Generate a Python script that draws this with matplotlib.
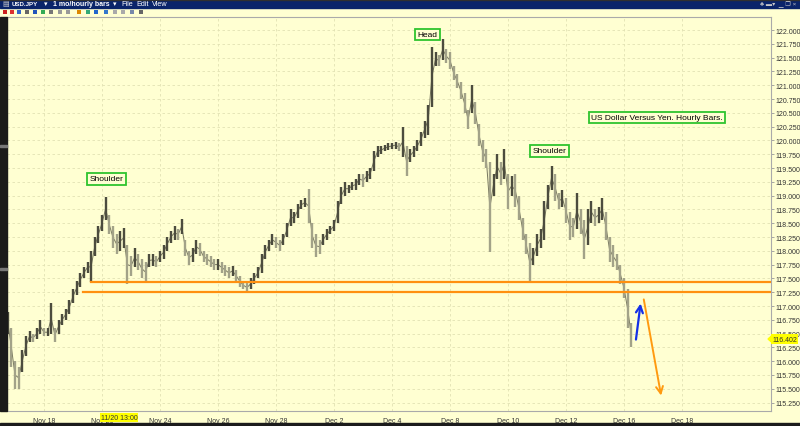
import numpy as np
import matplotlib.pyplot as plt
from matplotlib.patches import Rectangle, Polygon

plt.rcParams['font.family'] = ['Liberation Sans', 'DejaVu Sans']

# USD/JPY, 3-hour bars (Nov 16 evening -> Dec 16 morning, weekends removed)
bar_high = [
    116.90, 116.60, 116.00, 115.90, 116.20, 116.45, 116.55, 116.50, 116.60, 116.75,
    116.60, 116.60, 117.05, 116.60, 116.75, 116.85, 116.95, 117.10, 117.30, 117.45,
    117.60, 117.70, 117.80, 118.00, 118.25, 118.45, 118.65, 118.97, 118.65, 118.45,
    118.30, 118.35, 118.42, 118.10, 117.90, 118.05, 117.95, 117.85, 117.80, 117.95,
    117.95, 117.90, 118.00, 118.10, 118.25, 118.35, 118.45, 118.40, 118.58, 118.20,
    118.00, 118.05, 118.20, 118.15, 118.00, 117.95, 117.90, 117.85, 117.85, 117.80,
    117.75, 117.70, 117.72, 117.65, 117.55, 117.45, 117.42, 117.50, 117.60, 117.70,
    117.95, 118.10, 118.20, 118.30, 118.25, 118.20, 118.30, 118.50, 118.75, 118.70,
    118.85, 118.92, 118.95, 119.12, 118.50, 118.30, 118.20, 118.30, 118.40, 118.45,
    118.55, 118.90, 119.15, 119.25, 119.20, 119.25, 119.30, 119.40, 119.40, 119.45,
    119.50, 119.80, 119.90, 119.90, 119.92, 119.95, 119.95, 119.98, 119.95, 120.25,
    119.90, 119.85, 119.90, 120.00, 120.15, 120.35, 120.65, 121.70, 121.60, 121.55,
    121.84, 121.65, 121.60, 121.35, 121.20, 121.05, 120.85, 120.55, 121.00, 120.70,
    120.30, 120.00, 119.85, 119.60, 119.40, 119.75, 119.60, 119.85, 119.40, 119.35,
    119.40, 119.00, 118.60, 118.30, 118.15, 118.05, 118.30, 118.40, 118.90, 119.20,
    119.54, 119.40, 119.05, 119.10, 118.95, 118.70, 118.60, 119.05, 118.75, 118.55,
    118.75, 118.90, 118.75, 118.80, 118.95, 118.70, 118.25, 118.10, 117.95, 117.75,
    117.50, 117.30, 116.70,
]
bar_low = [
    116.50, 115.90, 115.50, 115.50, 115.80, 116.10, 116.35, 116.35, 116.40, 116.50,
    116.45, 116.45, 116.50, 116.35, 116.50, 116.65, 116.75, 116.85, 117.05, 117.20,
    117.35, 117.50, 117.60, 117.43, 117.90, 118.15, 118.35, 118.55, 118.30, 118.05,
    117.95, 118.00, 118.05, 117.40, 117.55, 117.70, 117.65, 117.50, 117.43, 117.70,
    117.72, 117.70, 117.80, 117.85, 118.00, 118.15, 118.20, 118.20, 118.30, 117.90,
    117.75, 117.80, 117.95, 117.90, 117.80, 117.75, 117.70, 117.65, 117.65, 117.60,
    117.55, 117.50, 117.55, 117.45, 117.35, 117.30, 117.25, 117.30, 117.40, 117.50,
    117.60, 117.85, 118.00, 118.10, 118.05, 118.00, 118.10, 118.25, 118.45, 118.50,
    118.60, 118.75, 118.80, 118.50, 118.05, 117.88, 117.95, 118.10, 118.20, 118.30,
    118.35, 118.50, 118.85, 119.00, 119.05, 119.10, 119.10, 119.20, 119.15, 119.25,
    119.30, 119.45, 119.70, 119.75, 119.80, 119.82, 119.85, 119.85, 119.80, 119.70,
    119.35, 119.60, 119.70, 119.80, 119.90, 120.05, 120.10, 120.60, 121.35, 121.35,
    121.45, 121.40, 121.30, 121.10, 120.95, 120.75, 120.50, 120.20, 120.50, 120.30,
    119.90, 119.60, 119.50, 117.97, 119.00, 119.30, 119.20, 119.30, 118.75, 119.00,
    118.80, 118.55, 118.20, 117.95, 117.43, 117.75, 117.90, 118.05, 118.20, 118.75,
    119.10, 118.90, 118.75, 118.80, 118.50, 118.20, 118.25, 118.40, 118.30, 117.85,
    118.10, 118.50, 118.45, 118.50, 118.55, 118.20, 117.80, 117.70, 117.65, 117.40,
    117.15, 116.60, 116.25,
]
last_price = 116.402

# trading-day index (0 = Nov 18) of each date label
date_labels = ['Nov 18', 'Nov 20', 'Nov 24', 'Nov 26', 'Nov 28', 'Dec 2',
               'Dec 4', 'Dec 8', 'Dec 10', 'Dec 12', 'Dec 16', 'Dec 18']
date_pos = [0, 2, 4, 6, 8, 10, 12, 14, 16, 18, 20, 22]

# neckline levels and where they start (trading-day index)
neck_levels = [117.43, 117.25]
neck_start = [1.62, 1.34]

W, H = 800, 427
bg = '#ffffd2'

fig = plt.figure(figsize=(W / 100, H / 100), dpi=100, facecolor=bg)
ax = fig.add_axes([7 / W, 1 - 412 / H, 764 / W, 394 / H])
ax.set_facecolor(bg)

# bars: 8 per trading day, bar 10 is Nov 18 00:00
n = len(bar_high)
x = (np.arange(n) - 10) / 8
hi = np.array(bar_high)
lo = np.array(bar_low)
mid = (hi + lo) / 2
up = np.r_[True, mid[1:] >= mid[:-1]]
cols = np.where(up, '#4c4c3e', '#a2a288')
# thin trace through the bar midpoints so the bars read as one dense scribble
ax.plot(x, mid, color='#77775f', lw=0.7, zorder=2)
ax.vlines(x, lo, hi, colors=cols, lw=1.7, zorder=3)

for lvl, x0 in zip(neck_levels, neck_start):
    ax.plot([x0, 26], [lvl, lvl], color='#ff9010', lw=1.6, zorder=4)

# hand drawn arrows
ax.annotate('', xy=(20.585, 117.096), xytext=(20.40, 116.342),
            arrowprops=dict(arrowstyle='->,head_length=0.5,head_width=0.25', color='#1530e8', lw=1.6))
ax.annotate('', xy=(21.297, 115.328), xytext=(20.665, 117.169),
            arrowprops=dict(arrowstyle='->,head_length=0.5,head_width=0.25', color='#ff9a10', lw=1.4))

ax.set_xlim((7 - 44) / 29.0, (771 - 44) / 29.0)
ax.set_ylim(122 - 381 / 55.2, 122 + 13 / 55.2)

ax.set_xticks(date_pos)
ax.set_xticklabels(date_labels)
yt = np.arange(115.25, 122.01, 0.25)
ax.set_yticks(yt)
ax.set_yticklabels(['%.3f' % v for v in yt])
ax.yaxis.tick_right()
ax.tick_params(axis='y', labelsize=5, colors='#999999', labelcolor='#333333', length=2, pad=1, width=0.6)
ax.tick_params(axis='x', labelsize=5, labelcolor='#333333', length=0, pad=4)
ax.grid(True, color='#e2e2b4', lw=0.6, linestyle=(0, (3, 3)))
ax.set_axisbelow(True)
ax.spines['left'].set_visible(False)
for s in ['top', 'right', 'bottom']:
    ax.spines[s].set_color('#aaaaaa')
    ax.spines[s].set_linewidth(0.8)

# overlay in pixel coordinates for window chrome and text boxes
ov = fig.add_axes([0, 0, 1, 1])
ov.set_xlim(0, W)
ov.set_ylim(H, 0)
ov.axis('off')
ov.patch.set_alpha(0)

ov.add_patch(Rectangle((0, 0), W, 8.5, color='#0a246a'))
ov.add_patch(Rectangle((0, 0), W, 1, color='#303030'))
ov.text(12, 4.8, 'USD.JPY', color='white', fontsize=4.4, va='center', weight='bold')
ov.text(43.5, 4.8, '▾', color='white', fontsize=5, va='center')
ov.text(53, 4.8, '1 mo/hourly bars', color='white', fontsize=5, va='center', weight='bold')
ov.text(112.5, 4.8, '▾', color='white', fontsize=5, va='center')
ov.text(121, 4.8, 'File', color='white', fontsize=5.2, va='center')
ov.text(136, 4.8, 'Edit', color='white', fontsize=5.2, va='center')
ov.text(152, 4.8, 'View', color='white', fontsize=5.2, va='center')
ov.text(2, 4.8, '▤', color='#cccccc', fontsize=5, va='center')
ov.text(760, 4.8, '♣ ▬▾  ▁ ❐ ×', color='#c8c8c8', fontsize=4.5, va='center')

# toolbar glyphs
tool_x = [3, 10, 17, 25, 33, 41, 49, 58, 66, 77, 86, 94, 104, 113, 121, 130, 139]
tool_c = ['#cc2020', '#dd3030', '#3366cc', '#666666', '#2255bb', '#33aa55', '#777777', '#999999',
          '#999999', '#dd8800', '#33aa77', '#2266cc', '#3377cc', '#aaaaaa', '#aaaaaa', '#7788aa', '#666666']
for tx, tc in zip(tool_x, tool_c):
    ov.add_patch(Rectangle((tx, 10.5), 4, 4, color=tc, lw=0))

# left strip and bottom edge
ov.add_patch(Rectangle((0, 18), 6.5, 394, color='#1a1a1a'))
ov.add_patch(Rectangle((0, 146), 6.5, 1.5, color='#777777'))
ov.add_patch(Rectangle((0, 269), 6.5, 1.5, color='#777777'))
ov.add_patch(Rectangle((0, 424), W, 3, color='#1c1c1c'))

box = dict(boxstyle='square,pad=0.28', fc=bg, ec='#2ec42e', lw=1.3)
ov.text(106.5, 180, 'Shoulder', ha='center', va='center', fontsize=6, bbox=box)
ov.text(427.5, 35.5, 'Head', ha='center', va='center', fontsize=6, bbox=box)
ov.text(549.5, 152, 'Shoulder', ha='center', va='center', fontsize=6, bbox=box)
ov.text(657, 118.5, 'US Dollar Versus Yen. Hourly Bars.', ha='center', va='center', fontsize=6, bbox=box)

# last price flag and crosshair time label
py = 31 + (122 - last_price) * 55.2
ov.add_patch(Polygon([(768, py), (772, py - 3.5), (772, py + 3.5)], color='#ffff00'))
ov.text(772.5, py, '%.3f' % last_price, ha='left', va='center', fontsize=5, color='#333333',
        bbox=dict(boxstyle='square,pad=0.15', fc='#ffff00', ec='none'))
ov.text(119, 418.5, '11/20 13:00', ha='center', va='center', fontsize=5, color='#333333',
        bbox=dict(boxstyle='square,pad=0.15', fc='#ffff00', ec='none'))

fig.savefig('out.png', dpi=100, facecolor=bg)
